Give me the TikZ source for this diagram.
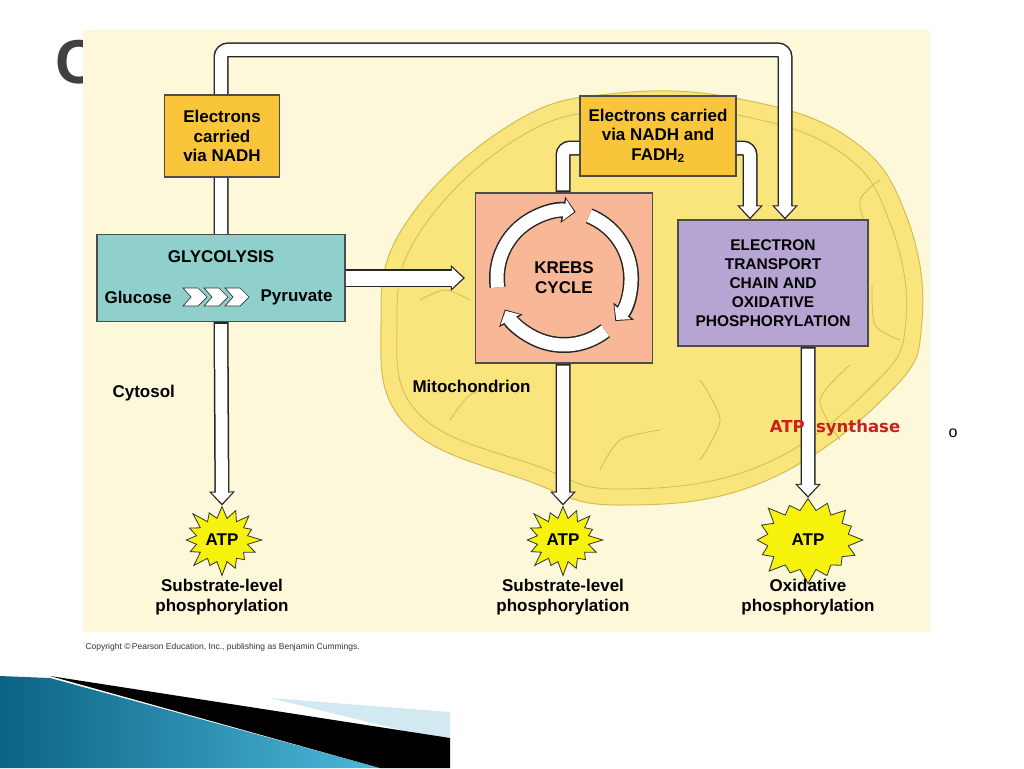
\documentclass[tikz,border=0pt]{standalone}
\usepackage{fontspec}
\setmainfont{Liberation Sans}
\newfontfamily\dejavu{DejaVu Sans}
\usetikzlibrary{shapes.symbols,arrows.meta,calc}
\pgfdeclarelayer{back}\pgfdeclarelayer{mid}
\pgfsetlayers{back,mid,main}
\definecolor{panel}{HTML}{FDF8DA}
\definecolor{mito}{HTML}{F9E57C}
\definecolor{mitoline}{HTML}{D3BD55}
\definecolor{gold}{HTML}{F9C53B}
\definecolor{teal}{HTML}{8FD0CC}
\definecolor{salmon}{HTML}{F8B898}
\definecolor{lilac}{HTML}{B6A5D3}
\definecolor{atpy}{HTML}{F6F20C}
\definecolor{redt}{HTML}{CC1F1F}
\definecolor{swA}{HTML}{0B6383}
\definecolor{swB}{HTML}{4DB8DA}
\definecolor{swC}{HTML}{D3E9F1}
\begin{document}
\begin{tikzpicture}[x=1pt,y=-1pt,
  box/.style={draw=black!70,line width=1.2pt,align=center,font=\bfseries\fontsize{17}{19.5}\selectfont,inner sep=0pt},
  lbl/.style={font=\bfseries\fontsize{17}{20}\selectfont,align=center},
  star/.style={starburst,starburst points=16,starburst point height=16pt,fill=atpy,draw=black!80,line width=0.8pt,font=\bfseries\fontsize{17}{19}\selectfont,inner sep=0pt},
  hb/.style={draw=black!85,line width=15pt,rounded corners=7pt},
  hw/.style={draw=white,line width=12pt,rounded corners=7pt},
  tb/.style={-{Triangle[width=25pt,length=14pt]}},
  tw/.style={-{Triangle[width=20pt,length=11pt]},shorten >=2pt}]
\useasboundingbox (0,0) rectangle (1024,768);
% nodes
\node[box,fill=gold,minimum width=115pt,minimum height=82pt] (e1) at (222,136) {Electrons\\carried\\via NADH};
\node[box,fill=teal,minimum width=248pt,minimum height=87pt] (gly) at (221,278) {};
\node[lbl] (glyt) at (221,257) {GLYCOLYSIS};
\node[lbl,anchor=west] (glc) at (101,297) {Glucose};
\node[lbl,anchor=east] (pyr) at (336,297) {Pyruvate};
\foreach \i in {0,1,2}{
  \pgfmathsetmacro\xo{183+21*\i}
  \draw[fill=white,draw=black!80,line width=0.7pt] (\xo,288) -- ++(15,0) -- ++(9,9) -- ++(-9,9) -- ++(-15,0) -- ++(8,-9) -- cycle;}
\node[box,fill=salmon,minimum width=177pt,minimum height=170pt] (krebs) at (564,278) {};
\node[box,fill=gold,minimum width=156pt,minimum height=80pt] (e2) at (658,136) {Electrons carried\\via NADH and\\FADH$_{\mathbf 2}$};
\node[box,fill=lilac,minimum width=190pt,minimum height=126pt,font=\bfseries\fontsize{15.5}{19}\selectfont] (etc) at (773,283) {ELECTRON\\TRANSPORT\\CHAIN AND\\OXIDATIVE\\PHOSPHORYLATION};
% krebs ring
\begin{scope}[shift={(krebs.center)},yscale=-1]
  \foreach \a/\b in {188/80,68/-40,-52/-152}{
    \draw[draw=black!85,line width=16pt,-{Triangle[width=26pt,length=13pt]}] (\a:67) arc[start angle=\a,end angle=\b,radius=67];
    \draw[draw=white,line width=13pt,-{Triangle[width=21pt,length=10pt]},shorten >=1.5pt] (\a:67) arc[start angle=\a,end angle=\b,radius=67];}
\end{scope}
\node[lbl] (kt) at (krebs.center) {KREBS\\CYCLE};
\node[star,minimum width=84pt,minimum height=76pt] (atp1) at (222,540) {ATP};
\node[star,minimum width=84pt,minimum height=76pt] (atp2) at (563,540) {ATP};
\node[star,minimum width=114pt,minimum height=92pt] (atp3) at (808,540) {ATP};
\node[lbl] (s1) at (222,597) {Substrate-level\\phosphorylation};
\node[lbl] (s2) at (563,597) {Substrate-level\\phosphorylation};
\node[lbl] (s3) at (808,597) {Oxidative\\phosphorylation};
\node[lbl,anchor=west] (cyt) at (109,393) {Cytosol};
\node[lbl,anchor=west] (mt) at (409,386) {Mitochondrion};
\node[text=redt,font=\dejavu\bfseries\fontsize{16.5}{19}\selectfont] (syn) at (835,428) {ATP\ \ synthase};
\node[font=\fontsize{16}{19}\selectfont] (o) at (953,433) {o};
\node[font=\fontsize{8.5}{10}\selectfont,anchor=west,text=black!80] (copy) at (82,647) {Copyright \textcopyright\,Pearson Education, Inc., publishing as Benjamin Cummings.};
% background
\begin{pgfonlayer}{back}
\fill[white] (0,0) rectangle (1024,768);
\node[anchor=west,text=black!75,font=\bfseries\fontsize{62}{62}\selectfont] (title) at (52,62) {C};
\fill[panel] (83,30) rectangle (930,632);
\fill[mito,draw=mitoline,line width=1pt] plot[smooth cycle,tension=0.7] coordinates{(922,320) (890,392) (763,482) (620,505) (531,482) (406,425) (381,323) (406,223) (513,123) (620,93) (745,100) (852,140) (906,215)};
\draw[mitoline,line width=0.8pt] plot[smooth cycle,tension=0.7] coordinates{(906,320) (874,384) (760,466) (620,489) (540,467) (420,415) (397,323) (420,232) (518,138) (620,109) (742,116) (843,154) (890,223)};
\foreach \p in {{(420,300) (445,290) (470,300)},{(450,420) (470,395) (500,385)},{(840,440) (820,400) (850,365)},{(900,340) (875,325) (872,285)},{(880,180) (860,200) (868,235)},{(600,470) (620,440) (660,430)},{(700,460) (720,420) (700,380)}}
  \draw[mitoline,line width=0.8pt] plot[smooth] coordinates{\p};
% swoosh
\shade[left color=swA,right color=swB] (0,676) -- (50,678) -- (380,768) -- (0,768) -- cycle;
\fill[swC] (270,698) -- (450,712) -- (450,742) -- cycle;
\fill[black] (50,676) -- (450,738) -- (450,768) -- (380,768) -- cycle;
\end{pgfonlayer}
% connectors
\begin{pgfonlayer}{mid}
\draw[hb,tb] (gly.north) -- ++(0,-184) -| ([xshift=12]etc.north);
\draw[hw,tw] (gly.north) -- ++(0,-184) -| ([xshift=12]etc.north);
\draw[hb] ([xshift=-1]krebs.north) |- ([yshift=-12]e2.west);
\draw[hw] ([xshift=-1,yshift=2]krebs.north) |- ([yshift=-12]e2.west);
\draw[hb,tb] ([yshift=-12]e2.east) -| ([xshift=-23]etc.north);
\draw[hw,tw] ([yshift=-12]e2.east) -| ([xshift=-23]etc.north);
\draw[hb,tb,shorten >=10pt,line width=18pt] (gly.east) -- (krebs.west);
\draw[hw,tw,shorten >=12pt,line width=15pt] ([xshift=-2]gly.east) -- (krebs.west);
\draw[hb,tb] (gly.south) -- (atp1.north);
\draw[hw,tw] ([yshift=-2]gly.south) -- (atp1.north);
\draw[hb,tb] ([xshift=-1]krebs.south) -- (atp2.north);
\draw[hw,tw] ([xshift=-1,yshift=-2]krebs.south) -- (atp2.north);
\draw[hb,tb] ([xshift=35]etc.south) -- (atp3.north);
\draw[hw,tw] ([xshift=35,yshift=-2]etc.south) -- (atp3.north);
\end{pgfonlayer}
\end{tikzpicture}
\end{document}
